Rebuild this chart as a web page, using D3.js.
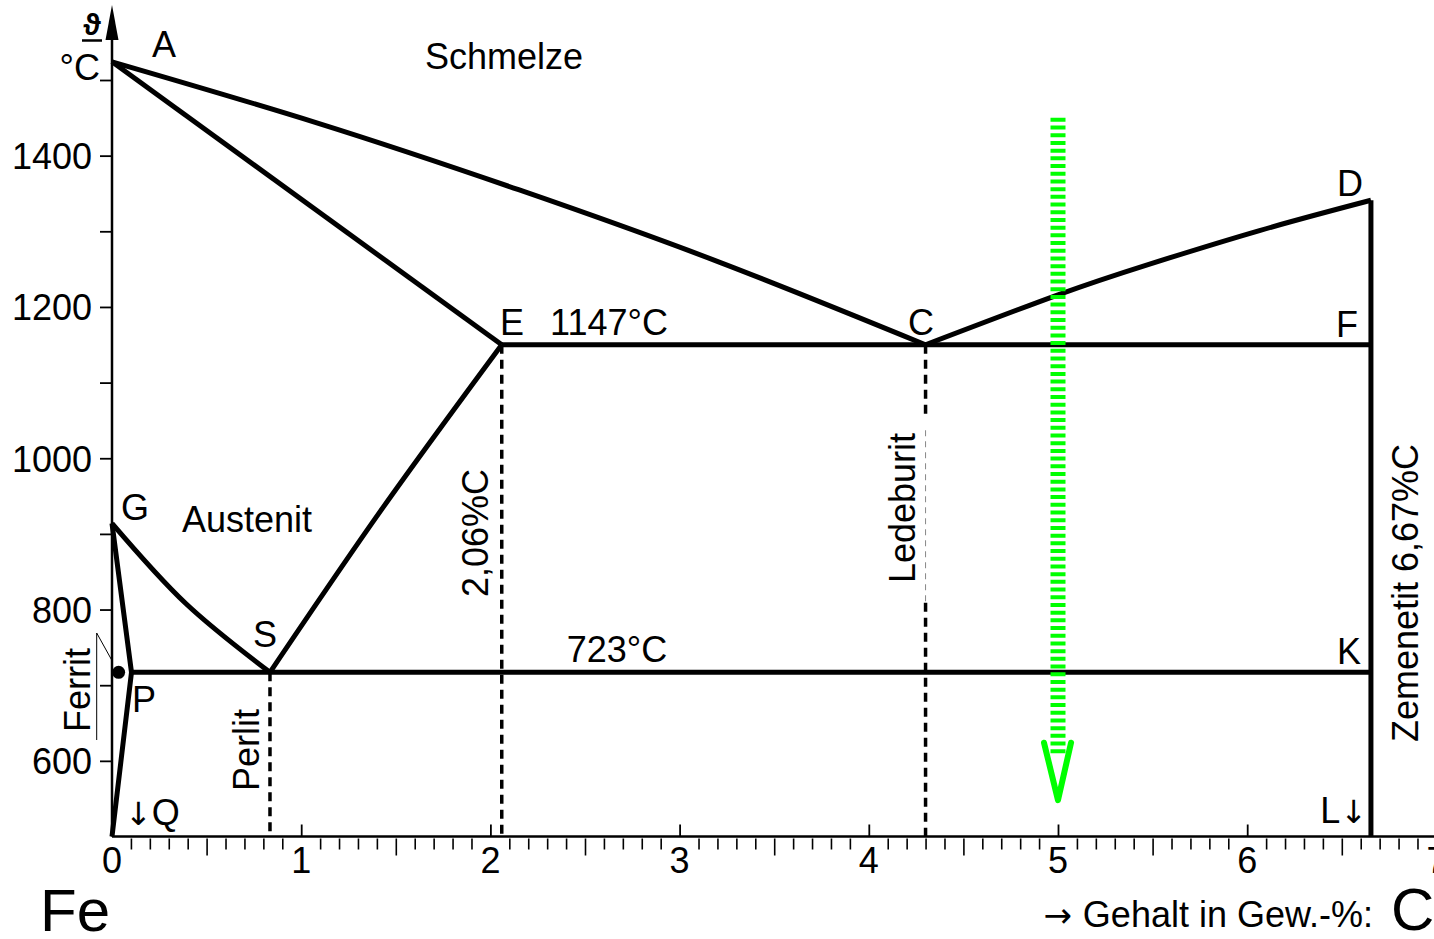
<!DOCTYPE html>
<html>
<head>
<meta charset="utf-8">
<script src="https://cdn.jsdelivr.net/npm/d3@7"></script>
<style>
  html, body { margin: 0; padding: 0; background: #fff; }
  svg { display: block; font-family: "Liberation Sans", Arial, sans-serif; }
</style>
</head>
<body>
<svg id="chart" width="1434" height="939"></svg>
<script>
// ---- data (carbon %, temperature °C) ----
const xTickValues = [0, 1, 2, 3, 4, 5, 6, 7];
const yTickValues = [600, 700, 800, 900, 1000, 1100, 1200, 1300, 1400, 1500];
const yTickLabels = [600, 800, 1000, 1200, 1400];

const lineAC = [[0, 1524], [1.074, 1444], [2.149, 1355], [3.223, 1258], [4.3, 1150]];
const lineAE = [[0, 1524], [2.06, 1150]];
const lineES = [[2.06, 1150], [1.43, 934], [0.835, 717]];
const lineGS = [[0, 914], [0.39, 808], [0.835, 717]];
const lineCD = [[4.3, 1150], [5.0, 1216], [5.476, 1256], [6.065, 1301], [6.654, 1341]];
const lineGPQ = [[0, 914], [0.103, 717], [0, 500]];
const lineEF = [[2.06, 1150], [6.654, 1150]];
const linePK = [[0.103, 717], [6.654, 717]];
const lineDL = [[6.654, 1341], [6.654, 500]];
const dashPerlit = [[0.835, 717], [0.835, 500]];
const dashE = [[2.06, 1150], [2.06, 500]];
const dashC1 = [[4.3, 1150], [4.3, 1055]];
const dashC2 = [[4.3, 1037], [4.3, 809]];
const dashC3 = [[4.3, 809], [4.3, 500]];
const greenShaft = [[5.0, 1450], [5.0, 610]];
const greenHead = [[4.926, 624], [5.0, 548], [5.069, 624]];
const ferritDot = [0.035, 717];

// ---- scales ----
const svg = d3.select("#chart");
const x = d3.scaleLinear().domain([0, 7]).range([112, 1436.4]);
const y = d3.scaleLinear().domain([500, 1500]).range([836.5, 80]);
const gen = d3.line().x(d => x(d[0])).y(d => y(d[1]));
const curve = d3.line().x(d => x(d[0])).y(d => y(d[1])).curve(d3.curveNatural);

const FONT = "Liberation Sans, Arial, sans-serif";
const ARROWFONT = "DejaVu Sans, sans-serif";

// ---- axes ----
const yAxis = d3.axisLeft(y).tickValues(yTickValues).tickSize(12).tickPadding(8)
  .tickFormat(d => yTickLabels.includes(d) ? String(d) : "");
const gy = svg.append("g").attr("transform", `translate(${x(0)},0)`).call(yAxis);
gy.select(".domain").remove();
gy.selectAll(".tick line").attr("stroke", "#000").attr("stroke-width", 1.8);
gy.selectAll(".tick text").attr("font-size", 36).attr("font-family", FONT).attr("fill", "#000").attr("dy", "0.36em");

const xAxisTop = d3.axisTop(x).tickValues(xTickValues).tickSize(12).tickFormat("");
const gxt = svg.append("g").attr("transform", `translate(0,${y(500)})`).call(xAxisTop);
gxt.select(".domain").remove();
gxt.selectAll(".tick line").attr("stroke", "#000").attr("stroke-width", 1.8);

const minor = d3.range(1, 70).map(i => i / 10).filter(v => Math.abs(v - Math.round(v)) > 1e-6);
const minorShort = minor.filter(v => Math.abs(v * 2 - Math.round(v * 2)) > 1e-6);
const minorHalf = minor.filter(v => Math.abs(v * 2 - Math.round(v * 2)) <= 1e-6);
const gxm1 = svg.append("g").attr("transform", `translate(0,${y(500) + 2})`)
  .call(d3.axisBottom(x).tickValues(minorShort).tickSize(11).tickFormat(""));
const gxm2 = svg.append("g").attr("transform", `translate(0,${y(500) + 2})`)
  .call(d3.axisBottom(x).tickValues(minorHalf).tickSize(17).tickFormat(""));
[gxm1, gxm2].forEach(g => {
  g.select(".domain").remove();
  g.selectAll(".tick line").attr("stroke", "#000").attr("stroke-width", 1.6);
});

svg.append("g").selectAll("text").data(xTickValues).join("text")
  .attr("x", d => x(d)).attr("y", 873)
  .attr("text-anchor", "middle").attr("font-size", 36).attr("font-family", FONT)
  .text(d => d);

svg.append("line").attr("x1", x(0)).attr("x2", 1434).attr("y1", y(500)).attr("y2", y(500))
  .attr("stroke", "#000").attr("stroke-width", 2.5);
svg.append("line").attr("x1", x(0)).attr("x2", x(0)).attr("y1", y(500)).attr("y2", 30)
  .attr("stroke", "#000").attr("stroke-width", 2.5);
svg.append("path").attr("d", `M${x(0)},5 L${x(0) - 6.5},40 L${x(0) + 6.5},40 Z`).attr("fill", "#000");

// ---- phase lines ----
const solid = (data, c) => svg.append("path").datum(data).attr("d", c ? curve : gen)
  .attr("fill", "none").attr("stroke", "#000").attr("stroke-width", 5)
  .attr("stroke-linejoin", "miter").attr("stroke-linecap", "butt");
solid(lineAC, true);
solid(lineAE, false);
solid(lineES, true);
solid(lineGS, true);
solid(lineCD, true);
solid(lineGPQ, false);
solid(lineEF, false);
solid(linePK, false);
solid(lineDL, false);

const dashed = (data, w, col, dash) => svg.append("path").datum(data).attr("d", gen)
  .attr("fill", "none").attr("stroke", col).attr("stroke-width", w).attr("stroke-dasharray", dash);
dashed(dashPerlit, 3.5, "#000", "9,6");
dashed(dashE, 3.5, "#000", "9,6");
dashed(dashC1, 3.5, "#000", "9,6");
dashed(dashC2, 1, "#888", "6,5");
dashed(dashC3, 3.5, "#000", "9,6");

svg.append("circle").attr("cx", x(ferritDot[0])).attr("cy", y(ferritDot[1])).attr("r", 6.5).attr("fill", "#000");
svg.append("path").attr("d", `M96.7,633 L96.7,740 M96.7,633 L111.7,660`)
  .attr("fill", "none").attr("stroke", "#000").attr("stroke-width", 1);

svg.append("path").datum(greenShaft).attr("d", gen).attr("fill", "none")
  .attr("stroke", "#00ff00").attr("stroke-width", 15).attr("stroke-dasharray", "4,3.7");
svg.append("path").datum(greenHead).attr("d", gen).attr("fill", "none")
  .attr("stroke", "#00ff00").attr("stroke-width", 6)
  .attr("stroke-linecap", "round").attr("stroke-linejoin", "round");

// ---- labels ----
const label = (txt, px, py, size, anchor, rot) => {
  const t = svg.append("text").attr("font-size", size).attr("font-family", FONT)
    .attr("text-anchor", anchor || "start").text(txt);
  if (rot) t.attr("transform", `translate(${px},${py}) rotate(${rot})`);
  else t.attr("x", px).attr("y", py);
  return t;
};
label("ϑ", 92, 35, 30, "middle").attr("font-weight", "bold");
svg.append("line").attr("x1", 82).attr("x2", 102).attr("y1", 40.5).attr("y2", 40.5)
  .attr("stroke", "#000").attr("stroke-width", 2.5);
label("°C", 100, 80, 36, "end");

label("A", 164, 57, 36, "middle");
label("Schmelze", 504, 69, 36, "middle");
label("E", 500, 335, 36);
label("1147°C", 609, 335, 36, "middle");
label("C", 921, 335, 36, "middle");
label("D", 1350, 196, 36, "middle");
label("F", 1347, 337, 36, "middle");
label("K", 1349, 664, 36, "middle");
label("G", 135, 520, 36, "middle");
label("Austenit", 247, 532, 36, "middle");
label("S", 265, 647, 36, "middle");
label("P", 144, 712, 36, "middle");
label("723°C", 617, 662, 36, "middle");
label("Ferrit", 90, 690, 36, "middle", -90);
label("Perlit", 259, 750, 36, "middle", -90);
label("2,06%C", 488, 533, 36, "middle", -90);
label("Ledeburit", 915, 508, 36, "middle", -90);
label("Zemenetit 6,67%C", 1418, 593, 36, "middle", -90);
label("Fe", 75, 931, 60, "middle");

const lq = svg.append("text").attr("x", 125).attr("y", 825).attr("font-size", 36).attr("font-family", FONT);
lq.append("tspan").attr("font-family", ARROWFONT).attr("font-size", 32).text("↓");
lq.append("tspan").text("Q");
const ll = svg.append("text").attr("x", 1367).attr("y", 823).attr("font-size", 36)
  .attr("font-family", FONT).attr("text-anchor", "end");
ll.append("tspan").text("L");
ll.append("tspan").attr("font-family", ARROWFONT).attr("font-size", 32).text("↓");
const gh = svg.append("text").attr("x", 1373).attr("y", 927).attr("font-size", 36)
  .attr("font-family", FONT).attr("text-anchor", "end");
gh.append("tspan").attr("font-family", ARROWFONT).attr("font-size", 34).text("→ ");
gh.append("tspan").text("Gehalt in Gew.-%:");
label("C", 1391, 930, 60, "start");
</script>
</body>
</html>
